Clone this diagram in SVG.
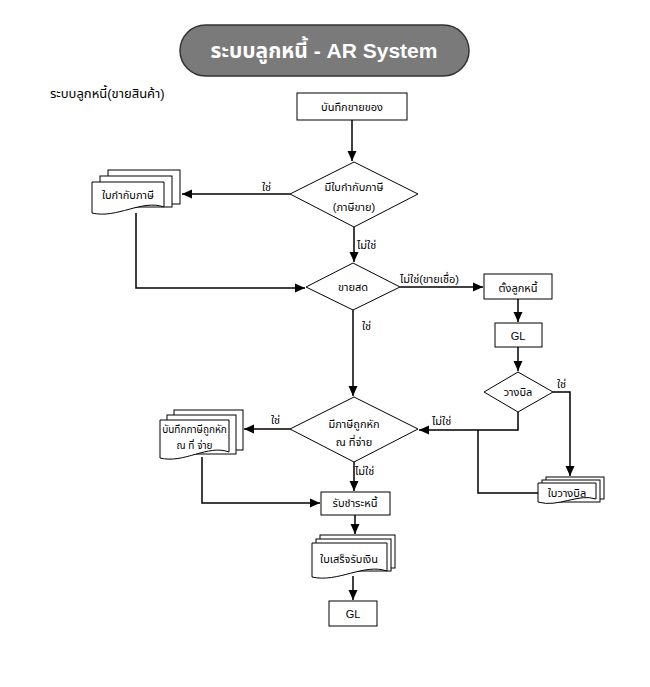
<svg xmlns="http://www.w3.org/2000/svg" width="650" height="687" viewBox="0 0 650 687">
<style>
text{font-family:"Liberation Sans","Noto Sans","Noto Sans Thai","DejaVu Sans",sans-serif;fill:#000;}
.t{font-size:11px;text-anchor:middle;}
.l{font-size:11px;}
.shape{fill:#fff;stroke:#000;stroke-width:1;}
.conn{fill:none;stroke:#000;stroke-width:1.5;}
</style>
<defs>
<marker id="arr" markerUnits="userSpaceOnUse" markerWidth="10" markerHeight="10" refX="10" refY="5" orient="auto">
<path d="M0,0.5 L10,5 L0,9.5 Z" fill="#000"/>
</marker>
</defs>
<rect width="650" height="687" fill="#fff"/>

<g id="title">
<rect x="180" y="25" width="289" height="51" rx="25.5" fill="#7a7a7a" stroke="#333" stroke-width="1.5"/>
<text x="324" y="58" style="font-size:21px;font-weight:bold;fill:#fff;text-anchor:middle;">ระบบลูกหนี้ - AR System</text>
</g>
<g id="subtitle"><text x="50" y="98" style="font-size:13px;">ระบบลูกหนี้(ขายสินค้า)</text></g>

<g id="connectors">
<path class="conn" d="M352,120 V161" marker-end="url(#arr)"/>
<path class="conn" d="M290,194 H182" marker-end="url(#arr)"/>
<path class="conn" d="M354,227 V262" marker-end="url(#arr)"/>
<path class="conn" d="M136,213 V288 H305" marker-end="url(#arr)"/>
<path class="conn" d="M400,287 H483" marker-end="url(#arr)"/>
<path class="conn" d="M518,299 V322" marker-end="url(#arr)"/>
<path class="conn" d="M518,347 V371" marker-end="url(#arr)"/>
<path class="conn" d="M553,392 H570 V476" marker-end="url(#arr)"/>
<path class="conn" d="M518,412 V430 H419" marker-end="url(#arr)"/>
<path class="conn" d="M478,430 V493 H538"/>
<path class="conn" d="M353,310 V396" marker-end="url(#arr)"/>
<path class="conn" d="M290,429 H244" marker-end="url(#arr)"/>
<path class="conn" d="M354,462 V491" marker-end="url(#arr)"/>
<path class="conn" d="M202,457 V503 H320" marker-end="url(#arr)"/>
<path class="conn" d="M355,515 V534" marker-end="url(#arr)"/>
<path class="conn" d="M353,576 V600" marker-end="url(#arr)"/>
<text class="l" x="262" y="191">ใช่</text>
<text class="l" x="357" y="249">ไม่ใช่</text>
<text class="l" x="400" y="283">ไม่ใช่(ขายเชื่อ)</text>
<text class="l" x="362" y="330">ใช่</text>
<text class="l" x="557" y="388">ใช่</text>
<text class="l" x="271" y="424">ใช่</text>
<text class="l" x="432" y="425">ไม่ใช่</text>
<text class="l" x="355" y="475">ไม่ใช่</text>
</g>

<g id="n_record_sale">
<rect class="shape" x="297" y="93" width="110" height="27"/>
<text class="t" x="352" y="111">บันทึกขายของ</text>
</g>

<g id="d_taxinvoice">
<path class="shape" d="M354,162 L418,194 L354,227 L290,194 Z"/>
<text class="t" x="354" y="191">มีใบกำกับภาษี</text>
<text class="t" x="354" y="211">(ภาษีขาย)</text>
</g>

<g id="doc_taxinvoice">
<rect class="shape" x="108" y="170" width="72" height="34"/>
<rect class="shape" x="100" y="176" width="72" height="31"/>
<path class="shape" d="M92,182 H164 V207 C142,199 117,219 92,213 Z"/>
<text class="t" x="128" y="199">ใบกำกับภาษี</text>
</g>

<g id="d_cash">
<path class="shape" d="M353,263 L400,287 L353,310 L306,287 Z"/>
<text class="t" x="353" y="291">ขายสด</text>
</g>

<g id="n_setdebtor">
<rect class="shape" x="484" y="274" width="68" height="25"/>
<text class="t" x="518" y="292">ตั้งลูกหนี้</text>
</g>

<g id="n_gl1">
<rect class="shape" x="495" y="323" width="47" height="24"/>
<text class="t" x="518" y="340">GL</text>
</g>

<g id="d_bill">
<path class="shape" d="M518,372 L553,392 L518,412 L484,392 Z"/>
<text class="t" x="518" y="396">วางบิล</text>
</g>

<g id="doc_bill">
<rect class="shape" x="546" y="477" width="58" height="22"/>
<rect class="shape" x="542" y="480" width="58" height="22"/>
<path class="shape" d="M538,483 H596 V499 C578,493 558,508 538,502 Z"/>
<text class="t" x="567" y="497">ใบวางบิล</text>
</g>

<g id="d_withholding">
<path class="shape" d="M354,397 L418,429 L354,462 L290,429 Z"/>
<text class="t" x="354" y="428">มีภาษีถูกหัก</text>
<text class="t" x="354" y="446">ณ ที่จ่าย</text>
</g>

<g id="doc_withholding">
<rect class="shape" x="174" y="410" width="69" height="40"/>
<rect class="shape" x="167" y="415" width="69" height="39"/>
<path class="shape" d="M160,420 H229 V452 C208,444 184,464 160,458 Z"/>
<text class="t" x="194.5" y="433" style="font-size:10px;">บันทึกภาษีถูกหัก</text>
<text class="t" x="194.5" y="449" style="font-size:10px;">ณ ที่ จ่าย</text>
</g>

<g id="n_receive">
<rect class="shape" x="321" y="492" width="69" height="23"/>
<text class="t" x="355" y="507">รับชำระหนี้</text>
</g>

<g id="doc_receipt">
<rect class="shape" x="320" y="535" width="75" height="33"/>
<rect class="shape" x="316" y="539" width="75" height="32"/>
<path class="shape" d="M312,543 H387 V571 C364,563 338,583 312,577 Z"/>
<text class="t" x="349" y="563">ใบเสร็จรับเงิน</text>
</g>

<g id="n_gl2">
<rect class="shape" x="329" y="601" width="48" height="25"/>
<text class="t" x="353" y="618">GL</text>
</g>
</svg>
